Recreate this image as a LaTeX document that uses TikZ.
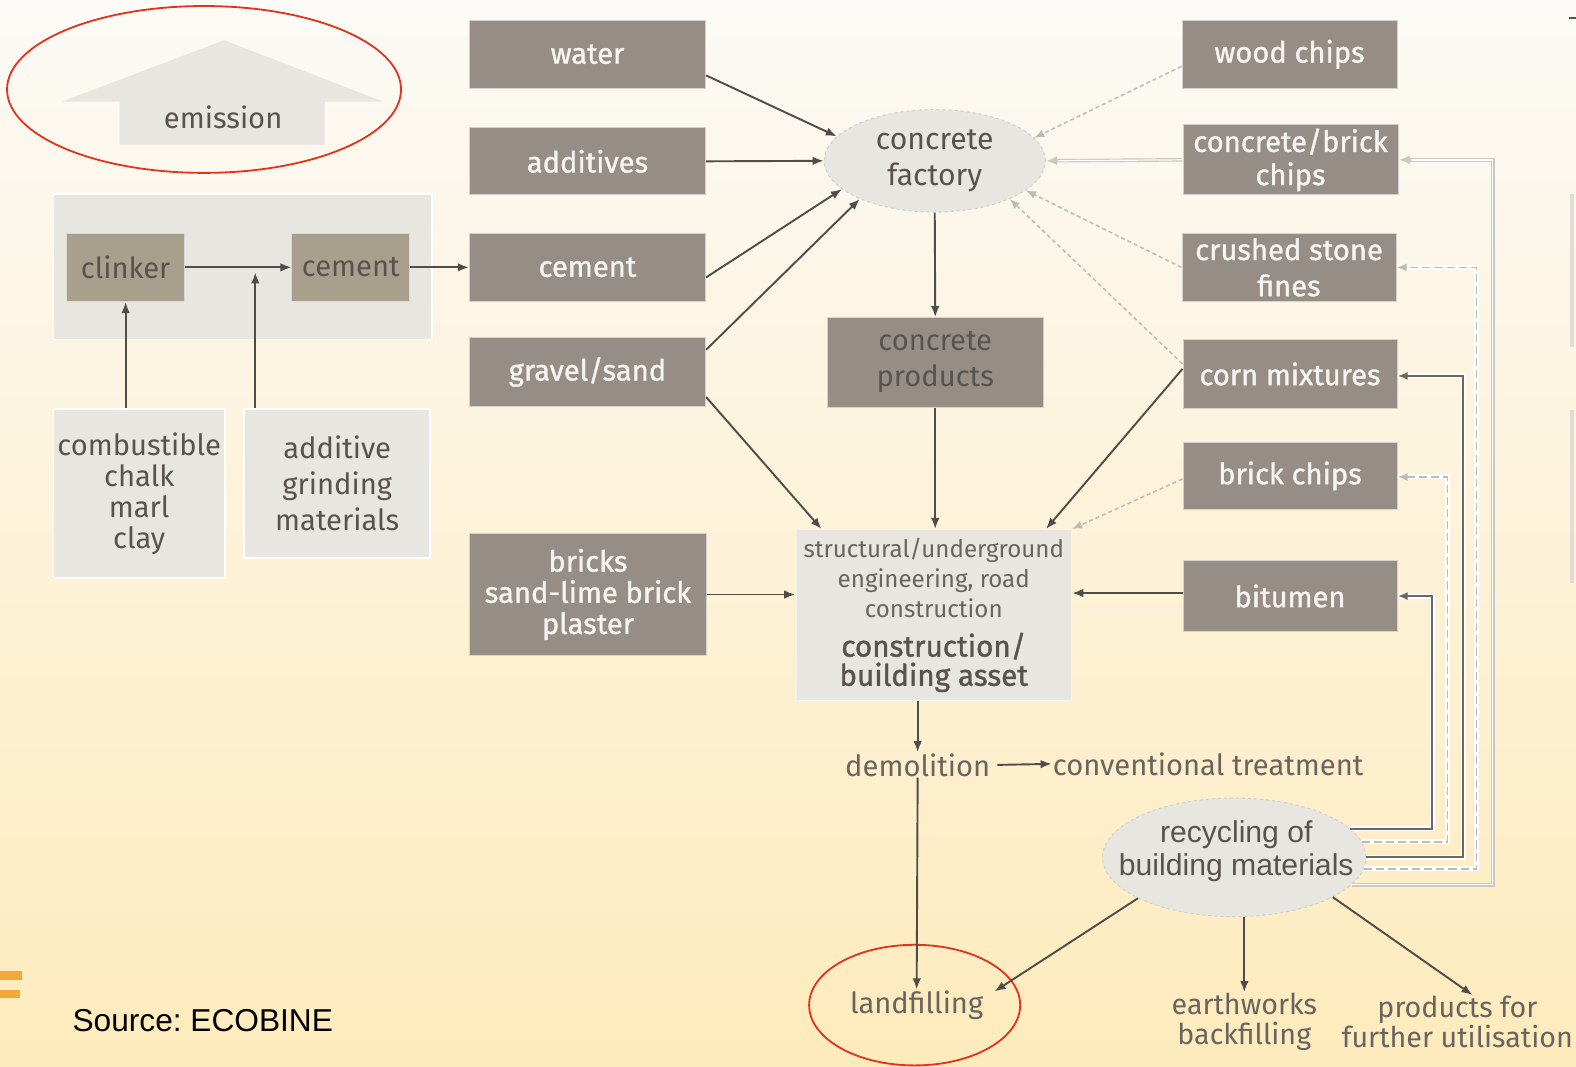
\documentclass[tikz,border=0pt]{standalone}
\usepackage{fontspec}
\setmainfont{Fira Sans}
\newfontfamily\arialf{Liberation Sans}
\newfontfamily\boxfont{Fira Sans}[FakeBold=1.2]
\usetikzlibrary{shapes.geometric,arrows.meta,calc}
\definecolor{bgtop}{RGB}{252,250,246}
\definecolor{bgmid}{RGB}{253,244,222}
\definecolor{bgbot}{RGB}{254,235,188}
\definecolor{taupe}{RGB}{150,141,135}
\definecolor{olive}{RGB}{168,160,141}
\definecolor{lightbox}{RGB}{232,230,225}
\definecolor{boxtext}{RGB}{246,244,240}
\definecolor{textc}{RGB}{88,83,79}
\definecolor{softtext}{RGB}{105,100,96}
\definecolor{arrc}{RGB}{80,76,73}
\definecolor{lightc}{RGB}{190,186,180}
\definecolor{redc}{RGB}{229,50,28}
\definecolor{orangec}{RGB}{242,169,59}
\begin{document}
\begin{tikzpicture}[x=1pt,y=-1pt,
  tbox/.style={rectangle, fill=taupe, draw=white!60!taupe, line width=1pt, text=boxtext,
    font=\boxfont\fontsize{29}{34}\selectfont, align=center, inner sep=0pt},
  obox/.style={rectangle, fill=olive, draw=white!60!olive, line width=1pt, text=textc,
    font=\fontsize{29}{34}\selectfont, align=center, inner sep=0pt, minimum width=117pt, minimum height=68pt},
  gbox/.style={rectangle, fill=lightbox, draw=white, line width=1.5pt, text=textc, align=center, inner sep=0pt},
  plain/.style={text=softtext, align=center, inner sep=1pt},
  arr/.style={draw=arrc, line width=1.9pt, -{Latex[length=11pt,width=8.5pt]}},
  dasharr/.style={draw=lightc, line width=1.5pt, dash pattern=on 4pt off 3pt, -{Latex[length=10pt,width=8pt]}},
  lightarr/.style={draw=lightc!80, line width=3.5pt, -{Latex[length=11pt,width=9pt]}},
  retdark/.style={draw=arrc!85, line width=2pt, preaction={draw=white, line width=5pt, -}, -{Latex[length=10pt,width=8pt]}},
  retdash/.style={draw=lightc, line width=1.6pt, dash pattern=on 8pt off 4pt, preaction={draw=white, line width=5pt, solid, -}, -{Latex[length=10pt,width=8pt]}},
  retlight/.style={draw=lightc!80, line width=4pt, -{Latex[length=11pt,width=9pt]}},
  redring/.style={draw=redc, line width=1.8pt}
]
\useasboundingbox (0,0) rectangle (1568,1061);
\shade[top color=bgtop, middle color=bgmid, bottom color=bgbot] (0,0) rectangle (1568,1061);

% stray slide marks
\fill[orangec] (0,966) rectangle (22,975);
\fill[orangec] (0,985) rectangle (20,993);
\draw[lightbox!90!gray, line width=3pt] (1564,193) -- (1564,345);
\draw[lightbox!90!gray, line width=3pt] (1564,408) -- (1564,580);
\draw[textc, line width=2pt] (1561,18) -- (1568,18);

% emission arrow
\fill[lightbox] (223,40) -- (381,101) -- (323,101) -- (323,144) -- (119,144) -- (119,101) -- (62,101) -- cycle;
\node[text=textc, font=\fontsize{29}{30}\selectfont] (emis) at (222,117) {emission};
\draw[redring] (203,89) ellipse [x radius=196, y radius=83];

% cement group
\node[gbox, minimum width=377pt, minimum height=145pt] (grp) at (241.5,265.5) {};
\node[obox] (clinker) at (125,266) {clinker};
\node[obox] (cementS) at (349,266) {cement};
\node[gbox, minimum width=171pt, minimum height=168pt, font=\fontsize{29}{31}\selectfont] (comb) at (138.5,491) {combustible\\chalk\\marl\\clay};
\node[gbox, minimum width=185pt, minimum height=148pt, font=\fontsize{29}{36}\selectfont] (addg) at (335.5,481) {additive\\grinding\\materials};
\coordinate (junc) at (254,271);

% left taupe boxes
\node[tbox, minimum width=235pt, minimum height=68pt] (water) at (584.5,54) {water};
\node[tbox, minimum width=235pt, minimum height=67pt] (additives) at (584.5,160.5) {additives};
\node[tbox, minimum width=235pt, minimum height=68pt] (cementB) at (584.5,266) {cement};
\node[tbox, minimum width=235pt, minimum height=68pt] (gravel) at (584.5,370) {gravel/sand};
\node[tbox, minimum width=236pt, minimum height=121pt, font=\boxfont\fontsize{29}{31}\selectfont] (bricks) at (585,591.5) {bricks\\sand-lime brick\\plaster};

% centre
\node[ellipse, fill=lightbox, draw=lightc!70, dashed, line width=1pt, minimum width=220pt, minimum height=102pt, inner sep=0pt] (fac) at (930,160) {};
\node[text=textc, align=center, inner sep=0pt, font=\fontsize{30}{35}\selectfont] (facT) at (fac.center) {concrete\\factory};
\node[tbox, minimum width=215pt, minimum height=89pt, text=textc, font=\fontsize{29}{36}\selectfont] (cprod) at (930.5,360.5) {concrete\\products};
\node[gbox, draw=white!50!lightbox, minimum width=274pt, minimum height=170pt] (construct) at (929,612) {};
\node[text=softtext, align=center, inner sep=0pt, font=\fontsize{24}{30}\selectfont] (constA) at (929,575) {structural/underground\\engineering, road\\construction};
\node[text=textc, align=center, inner sep=0pt, font=\boxfont\fontsize{29.5}{29}\selectfont] (constB) at (929,659) {construction/\\building asset};

% right taupe boxes
\node[tbox, minimum width=214pt, minimum height=68pt] (wood) at (1283,54) {wood chips};
\node[tbox, minimum width=214pt, minimum height=70pt, font=\boxfont\fontsize{29}{33}\selectfont] (cbchips) at (1284,159) {concrete/brick\\chips};
\node[tbox, minimum width=213pt, minimum height=68pt, font=\boxfont\fontsize{29}{36}\selectfont] (crushed) at (1282.5,266) {crushed stone\\fines};
\node[tbox, minimum width=213pt, minimum height=68pt] (corn) at (1283.5,372) {corn mixtures};
\node[tbox, minimum width=213pt, minimum height=67pt] (brickch) at (1283.5,473.5) {brick chips};
\node[tbox, minimum width=213pt, minimum height=70pt] (bitumen) at (1283.5,593) {bitumen};

% lower part
\node[plain, font=\fontsize{29}{30}\selectfont] (demol) at (913,761) {demolition};
\node[plain, font=\fontsize{29}{30}\selectfont] (conv) at (1202,760) {conventional treatment};
\node[ellipse, fill=lightbox, draw=lightc!70, dashed, line width=1pt, minimum width=262pt, minimum height=118pt, inner sep=0pt] (rec) at (1228,853) {};
\node[text=textc, align=center, inner sep=0pt, font=\arialf\fontsize{30}{33}\selectfont] (recT) at (1230,847) {recycling of\\building materials};
\node[plain, font=\fontsize{29}{30}\selectfont] (landfill) at (912,1000) {landfilling};
\node[plain, font=\fontsize{28.5}{30}\selectfont] (earth) at (1238,1017) {earthworks\\backfilling};
\node[plain, font=\fontsize{28.5}{30}\selectfont] (prod) at (1450,1017) {products for\\further utilisation};
\draw[redring] (910,1000) ellipse [x radius=105, y radius=60];
\node[anchor=west, inner sep=0pt, font=\arialf\fontsize{31.5}{36}\selectfont, text=black] (src) at (72,1015) {Source:\ ECOBINE};

% cement group arrows
\draw[arr] (clinker.east) -- (cementS.west);
\draw[arr] (cementS.east) -- (cementB.west);
\draw[arr] (clinker.south |- comb.north) -- (clinker.south);
\draw[arr] (junc |- addg.north) -- (junc);

% into concrete factory
\draw[arr] ([yshift=-21pt]water.east) -- (fac.166);
\draw[arr] (additives.east) -- (fac.west);
\draw[arr] ([yshift=-10pt]cementB.east) -- (fac.197);
\draw[arr] ([yshift=22pt]gravel.east) -- (fac.207);
\draw[dasharr] ([yshift=-12pt]wood.west) -- (fac.13);
\draw[lightarr] (cbchips.west) -- (fac.east);
\draw[white, line width=1.2pt, shorten >=12pt] (cbchips.west) -- (fac.east);
\draw[dasharr] (crushed.west) -- (fac.342);
\draw[dasharr] ([yshift=10pt]corn.west) -- (fac.333);

% into construction
\draw[arr] (fac.south) -- (cprod.north);
\draw[arr] (cprod.south) -- (cprod.south |- construct.north);
\draw[arr] ([yshift=-25pt]gravel.east) -- ([xshift=26pt]construct.north west);
\draw[arr] ([yshift=5pt]corn.west) -- ([xshift=-26pt]construct.north east);
\draw[dasharr] ([yshift=-3pt]brickch.west) -- (construct.north east);
\draw[arr] (bricks.east) -- (bricks.east -| construct.west);
\draw[arr] ([yshift=3pt]bitumen.west) -- ([yshift=3pt]bitumen.west -| construct.east);

% demolition
\draw[arr] (demol.north |- construct.south) -- (demol.north);
\draw[arr] ([xshift=6pt]demol.east) -- (conv.west);
\draw[arr] (demol.south) -- (landfill.north);

% recycling outputs
\draw[arr] (rec.203) -- ([xshift=10pt,yshift=-2pt]landfill.north east);
\draw[arr] (earth.north |- rec.south) -- (earth.north);
\draw[arr] (rec.-22) -- ([xshift=15pt]prod.north);

% recycling return loops
\coordinate (r1) at (1425,824);
\coordinate (r2) at (1440,838);
\coordinate (r3) at (1456,852);
\coordinate (r4) at (1469,866);
\coordinate (r5) at (1485,880);
\draw[retlight] (rec.-13) -- (rec.-13 -| r5) |- (cbchips.east);
\draw[white, line width=1.5pt] (rec.-13) -- (rec.-13 -| r5) |- ([xshift=12pt]cbchips.east);
\draw[retdash] (rec.-5) -- (rec.-5 -| r4) |- (crushed.east);
\draw[retdark] (rec.0) -- (rec.0 -| r3) |- ([yshift=-2pt]corn.east);
\draw[retdash] (rec.7) -- (rec.7 -| r2) |- ([yshift=-1pt]brickch.east);
\draw[retdark] (rec.14) -- (rec.14 -| r1) |- (bitumen.east);
\end{tikzpicture}
\end{document}
